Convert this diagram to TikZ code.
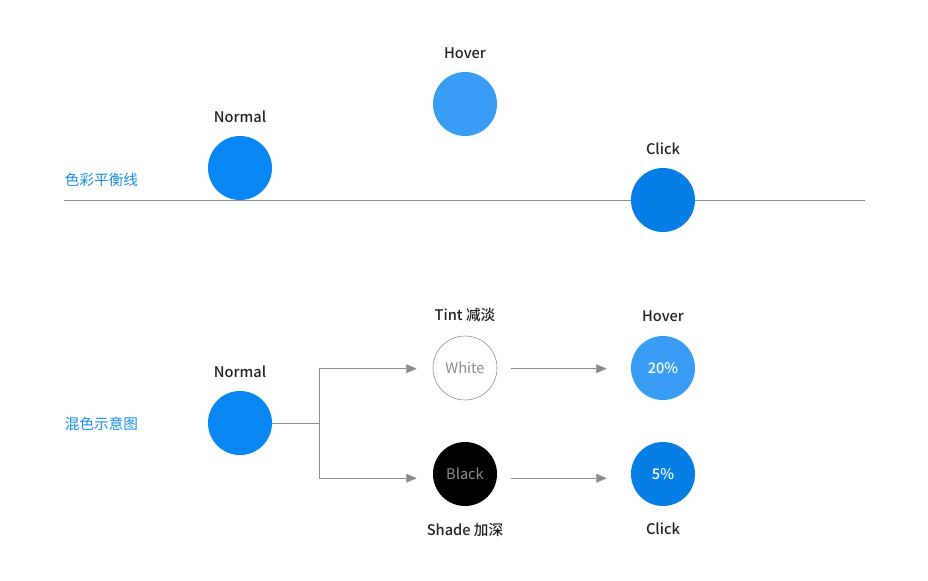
\documentclass[tikz,border=0pt]{standalone}
\usepackage{fontspec}
\setmainfont{Noto Sans CJK SC}[BoldFont={Noto Sans CJK SC Medium}]
\usetikzlibrary{arrows.meta,positioning}
\definecolor{base}{RGB}{8,134,242}
\definecolor{tint}{RGB}{58,157,245}
\definecolor{shade}{RGB}{7,126,230}
\definecolor{caption}{RGB}{24,140,235}
\definecolor{ink}{RGB}{34,34,34}
\definecolor{rule}{RGB}{140,140,140}
\newcommand{\labelsize}{\fontsize{10.4}{12}\selectfont}
\tikzset{
  >={Triangle[length=2.6mm,width=2.2mm]},
  dot/.style={circle,fill=#1,minimum size=1.6cm,inner sep=0pt,font=\bfseries\labelsize,text=white},
  dot/.default=base,
  lbl/.style={font=\bfseries\labelsize,text=ink},
  side/.style={font=\labelsize,text=caption,anchor=west},
  flow/.style={->,draw=rule,thin},
}

\begin{document}
\begin{tikzpicture}[x=0.025cm,y=-0.025cm]
  \useasboundingbox (0,0) rectangle (928,580);
  % balance line
  \coordinate (l0) at (64,200);
  \coordinate (l1) at (865,200);
  \draw[rule,thin] (l0) -- (l1);
  \node[side] (cap1) at (60,180) {色彩平衡线};

  \node[dot] (normal) at (240,168) {};
  \node[dot=tint] (hover) at (465,104) {};
  \node[dot=shade] (click) at (663,200) {};
  \node[lbl,above=2mm of normal] {Normal};
  \node[lbl,above=2mm of hover] {Hover};
  \node[lbl,above=2mm of click] {Click};

  % mixing
  \node[side] (cap2) at (60,424) {混色示意图};
  \node[dot] (mix) at (240,423) {};
  \node[lbl,above=2mm of mix] {Normal};

  \node[circle,draw=rule,fill=white,minimum size=1.6cm,inner sep=0pt,font=\labelsize,text=rule] (white) at (465,368) {White};
  \node[dot=black,text=rule,font=\labelsize] (black) at (465,474) {Black};
  \node[lbl,above=2.2mm of white] {Tint 减淡};
  \node[lbl,below=3mm of black] {Shade 加深};

  \node[dot=tint] (h20) at (663,368) {20\%};
  \node[dot=shade] (c5) at (663,474) {5\%};
  \node[lbl,above=2.2mm of h20] {Hover};
  \node[lbl,below=3mm of c5] {Click};

  \coordinate (fork) at (319,423);
  \draw[rule,thin] (mix) -- (fork);
  \draw[flow] (fork) |- ([xshift=-4mm,yshift=-0.5pt]white.west);
  \draw[flow] (fork) |- ([xshift=-4mm,yshift=-3pt]black.west);
  \draw[flow] ([xshift=3.5mm,yshift=-0.5pt]white.east) -- ([xshift=-6mm,yshift=-0.5pt]h20.west);
  \draw[flow] ([xshift=3.5mm,yshift=-3pt]black.east) -- ([xshift=-6mm,yshift=-3pt]c5.west);
\end{tikzpicture}
\end{document}
